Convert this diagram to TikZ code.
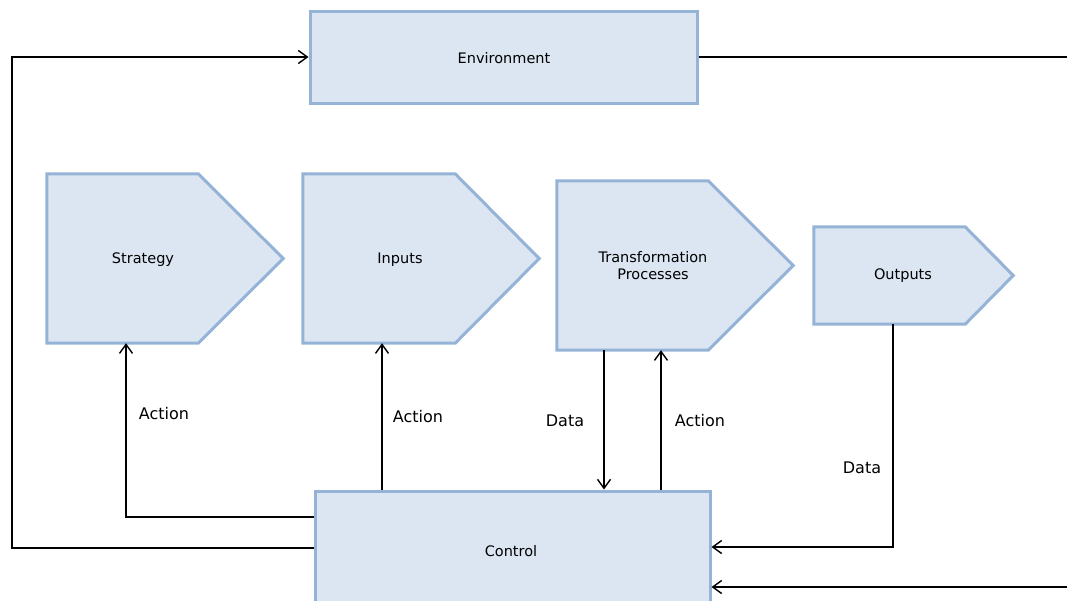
\documentclass[tikz,border=0pt]{standalone}
\usepackage{fontspec}
\setmainfont{DejaVu Sans}
\usetikzlibrary{arrows.meta,calc}
\definecolor{boxfill}{RGB}{220,230,242}
\definecolor{boxline}{RGB}{149,179,215}
\begin{document}
\begin{tikzpicture}[x=1pt,y=-1pt,
  blockbox/.style={rectangle,draw=boxline,fill=boxfill,line width=3pt,inner sep=0pt},
  bodybox/.style={rectangle,inner sep=0pt},
  pentshape/.style={draw=boxline,fill=boxfill,line width=3pt,line join=miter},
  boxtext/.style={font=\fontsize{14.5}{17}\selectfont,align=center,inner sep=0pt},
  lbl/.style={font=\fontsize{16}{19}\selectfont,inner sep=0pt},
  conn/.style={draw=black,line width=1.4pt},
  arr/.style={conn,-{Straight Barb[length=9pt,width=13pt,line width=1.4pt]}}]
\useasboundingbox (0,0) rectangle (1067,600);
\clip (0,0) rectangle (1067,600);

% rectangular blocks
\node[blockbox,minimum width=387pt,minimum height=92pt] (env) at (503.5,57) {};
\node[boxtext] (envtext) at (504,58) {Environment};
\node[blockbox,minimum width=395pt,minimum height=120pt] (ctrl) at (512.5,551) {};
\node[boxtext] (ctrltext) at (511,551) {Control};

% arrow-shaped process blocks (body part as node, point added when drawn)
\node[bodybox,minimum width=151pt,minimum height=169pt] (strat) at (122.5,258.5) {};
\node[bodybox,minimum width=152pt,minimum height=169pt] (inp) at (379,258.5) {};
\node[bodybox,minimum width=151pt,minimum height=169pt] (trans) at (632.5,265.5) {};
\node[bodybox,minimum width=151pt,minimum height=97pt] (outp) at (889.5,275.5) {};

\draw[pentshape] (strat.north west) -- (strat.north east) -- ([xshift=85pt]strat.east) -- (strat.south east) -- (strat.south west) -- cycle;
\draw[pentshape] (inp.north west) -- (inp.north east) -- ([xshift=84pt]inp.east) -- (inp.south east) -- (inp.south west) -- cycle;
\draw[pentshape] (trans.north west) -- (trans.north east) -- ([xshift=85pt]trans.east) -- (trans.south east) -- (trans.south west) -- cycle;
\draw[pentshape] (outp.north west) -- (outp.north east) -- ([xshift=48pt]outp.east) -- (outp.south east) -- (outp.south west) -- cycle;

\node[boxtext] (strattext) at (143,260) {Strategy};
\node[boxtext] (inptext) at (400,260) {Inputs};
\node[boxtext] (transtext) at (653,266) {Transformation\\Processes};
\node[boxtext] (outptext) at (903,276) {Outputs};

% helper points for the routed connectors
\coordinate (loopx) at (12,0);
\coordinate (rightedge) at (1067,0);
\coordinate (yenv) at (0,57);
\coordinate (ystrat) at (0,517);
\coordinate (yloop) at (0,548);
\coordinate (yout) at (0,547);
\coordinate (ybottom) at (0,587);
\coordinate (xstrat) at (126,0);
\coordinate (xinp) at (382,0);
\coordinate (xdata) at (604,0);
\coordinate (xact) at (661,0);
\coordinate (xout) at (893,0);

% connectors
\draw[conn] (env.east |- yenv) -- (rightedge |- yenv);
\draw[arr] (ctrl.west |- yloop) -- (loopx |- yloop) -- (loopx |- yenv) -- (env.west |- yenv);
\draw[arr] (ctrl.west |- ystrat) -- (xstrat |- ystrat) -- (xstrat |- strat.south);
\draw[arr] (xinp |- ctrl.north) -- (xinp |- inp.south);
\draw[arr] (xdata |- trans.south) -- (xdata |- ctrl.north);
\draw[arr] (xact |- ctrl.north) -- (xact |- trans.south);
\draw[arr] (xout |- outp.south) -- (xout |- yout) -- (ctrl.east |- yout);
\draw[arr] (rightedge |- ybottom) -- (ctrl.east |- ybottom);

% connector labels
\node[lbl] (l1) at (164,414) {Action};
\node[lbl] (l2) at (418,417) {Action};
\node[lbl] (l3) at (565,421) {Data};
\node[lbl] (l4) at (700,421) {Action};
\node[lbl] (l5) at (862,468) {Data};
\end{tikzpicture}
\end{document}
